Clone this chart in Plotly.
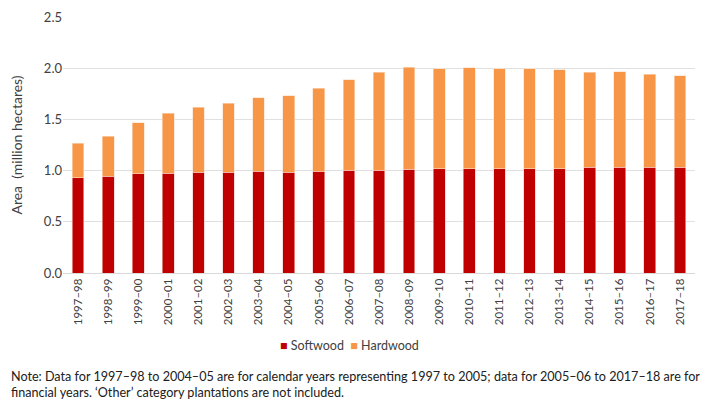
import plotly.graph_objects as go

years = ["1997–98", "1998–99", "1999–00", "2000–01", "2001–02", "2002–03", "2003–04",
         "2004–05", "2005–06", "2006–07", "2007–08", "2008–09", "2009–10", "2010–11",
         "2011–12", "2012–13", "2013–14", "2014–15", "2015–16", "2016–17", "2017–18"]
softwood = [0.93, 0.946, 0.969, 0.975, 0.982, 0.982, 0.995, 0.982, 0.995, 1.005, 1.005,
            1.011, 1.018, 1.018, 1.018, 1.018, 1.018, 1.031, 1.031, 1.031, 1.031]
total = [1.265, 1.334, 1.468, 1.562, 1.621, 1.660, 1.712, 1.729, 1.804, 1.888, 1.960,
         2.009, 1.993, 2.003, 1.996, 1.996, 1.983, 1.960, 1.963, 1.941, 1.928]
hardwood = [round(t - s, 3) for t, s in zip(total, softwood)]

SOFT_C = "#C00000"
HARD_C = "#F79646"
FONT = "Lato"
OFF = 8          # page body margin
W, H = 711 - OFF, 400 - OFF
L, T = 63 - OFF, 17 - OFF
B = H - (273 - OFF)
R = W - (695 - OFF)
PW, PH = W - L - R, H - T - B


def py(page_y):
    return -(page_y - 273) / PH


def px(page_x):
    return (page_x - 63) / PW


fig = go.Figure()
fig.add_bar(x=years, y=softwood, name="Softwood", marker=dict(color=SOFT_C, line=dict(color="#F4C7C3", width=0.6)))
fig.add_bar(x=years, y=hardwood, name="Hardwood", marker=dict(color=HARD_C, line=dict(color="#FCE0C8", width=0.6)))

fig.update_layout(
    barmode="stack", bargap=0.61,
    width=W, height=H,
    margin=dict(l=L, r=R, t=T, b=B, autoexpand=False),
    plot_bgcolor="white", paper_bgcolor="white",
    font=dict(family=FONT, size=12, color="#404040"),
    showlegend=False,
    xaxis=dict(tickangle=-90, tickfont=dict(size=11.5, color="#404040"), showline=True,
               linecolor="#D9D9D9", ticks="", automargin=False),
    yaxis=dict(range=[0, 2.5], dtick=0.5, tickformat=".1f", gridcolor="#E0E0E0",
               tickfont=dict(size=13, color="#404040"), zeroline=False, automargin=False,
               title=dict(text="Area  (million hectares)", font=dict(size=14, color="#404040"), standoff=17)),
    annotations=[
        dict(text=f'<span style="color:{SOFT_C}">■</span> Softwood  <span style="color:{HARD_C}">■</span> Hardwood',
             xref="paper", yref="paper", x=px(349), y=py(345), xanchor="center", yanchor="middle",
             showarrow=False, font=dict(size=12.5, color="#404040")),
        dict(text="Note: Data for 1997–98 to 2004–05 are for calendar years representing 1997 to 2005; data for 2005–06 to 2017–18 are for"
                  "<br>financial years. ‘Other’ category plantations are not included.",
             xref="paper", yref="paper", x=px(9), y=py(384), xanchor="left", yanchor="middle", align="left",
             showarrow=False, font=dict(size=12.6, color="#202020")),
    ],
)
fig.write_html("out.html")
